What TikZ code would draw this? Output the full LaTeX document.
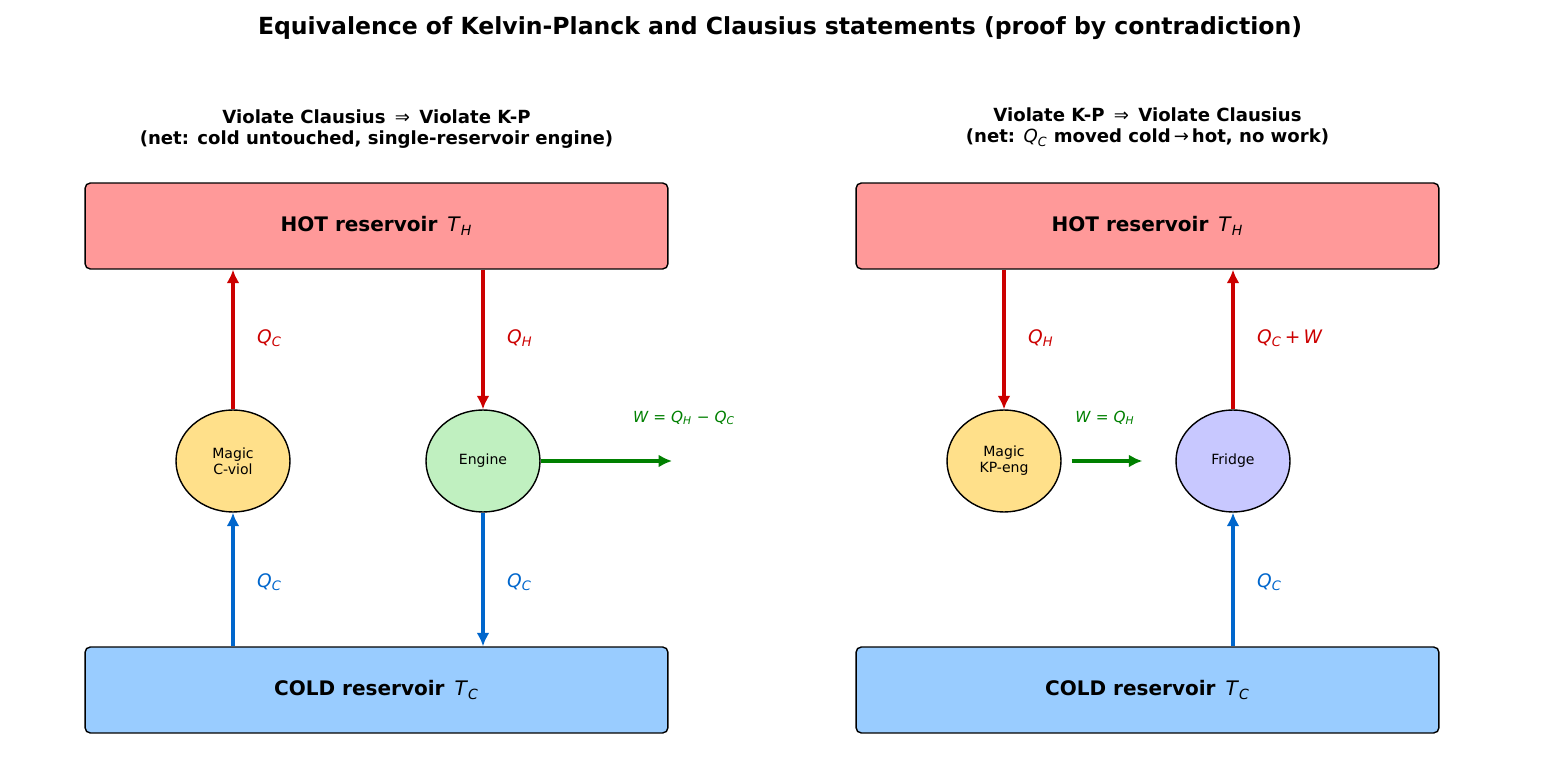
\documentclass[tikz,border=0pt]{standalone}
\usepackage{fontspec}
\setmainfont{DejaVu Sans}
\usetikzlibrary{arrows.meta,shapes.geometric}
\definecolor{hotfill}{HTML}{FF9999}
\definecolor{coldfill}{HTML}{99CCFF}
\definecolor{magicfill}{HTML}{FFE08A}
\definecolor{enginefill}{HTML}{C0F0C0}
\definecolor{fridgefill}{HTML}{C8C8FF}
\definecolor{heatred}{HTML}{CC0000}
\definecolor{coldblue}{HTML}{0066CC}
\definecolor{workgreen}{HTML}{008000}
\newcommand{\qsym}[2]{\textit{#1}\textsubscript{\textit{#2}}}
\newcommand{\reservoirs}[2]{%
  \begin{scope}[shift={#1}]
    \node[resbox,fill=hotfill] (hot#2) at (0,226) {HOT reservoir\enspace{\mdseries\qsym{T}{H}}};
    \node[resbox,fill=coldfill] (cold#2) at (0,690) {COLD reservoir\enspace{\mdseries\qsym{T}{C}}};
  \end{scope}}

\begin{document}
\begin{tikzpicture}[x=0.02cm, y=-0.02cm,
  resbox/.style={draw=black, line width=0.8pt, rounded corners=3pt,
    minimum width=11.66cm, minimum height=1.72cm,
    font=\bfseries\fontsize{11.4}{13}\selectfont},
  device/.style={ellipse, draw=black, line width=0.8pt, inner sep=0pt,
    minimum width=2.28cm, minimum height=2.04cm, align=center,
    font=\fontsize{8}{9.2}\selectfont},
  flow/.style={line width=2.3pt, -{Latex[length=2.7mm,width=2.6mm]}},
  qlab/.style={anchor=west, font=\fontsize{10.6}{12}\selectfont},
  wlab/.style={text=workgreen, font=\fontsize{8.7}{10}\selectfont},
  subtitle/.style={align=center, font=\bfseries\fontsize{10.3}{12.3}\selectfont}]
  \useasboundingbox (0,0) rectangle (1560,780);

  \node[font=\bfseries\fontsize{13.4}{16}\selectfont] (title) at (780,28)
    {Equivalence of Kelvin-Planck and Clausius statements (proof by contradiction)};

  % left panel: Clausius violator feeding an engine
  \node[subtitle] (subL) at (376.5,129)
    {Violate Clausius {\mdseries\,⇒\,} Violate K-P\\(net: cold untouched, single-reservoir engine)};
  \reservoirs{(376.5,0)}{L}
  \node[device,fill=magicfill] (cviol) at (233,461) {Magic\\C-viol};
  \node[device,fill=enginefill] (engine) at (483,461) {Engine};
  \coordinate (wout) at (672,461);

  \draw[flow,heatred] (cviol.north) -- (hotL.south -| cviol.north);
  \draw[flow,heatred] (hotL.south -| engine.north) -- (engine.north);
  \draw[flow,coldblue] (coldL.north -| cviol.south) -- (cviol.south);
  \draw[flow,coldblue] (engine.south) -- (coldL.north -| engine.south);
  \draw[flow,workgreen] (engine.east) -- (wout);

  \node[qlab,text=heatred] (qcup) at (251,338) {\qsym{Q}{C}};
  \node[qlab,text=heatred] (qhL) at (501,338) {\qsym{Q}{H}};
  \node[qlab,text=coldblue] (qcin) at (251,582) {\qsym{Q}{C}};
  \node[qlab,text=coldblue] (qcout) at (501,582) {\qsym{Q}{C}};
  \node[wlab] (wL) at (684,418) {\textit{W} = \qsym{Q}{H} − \qsym{Q}{C}};

  % right panel: K-P violator driving a fridge
  \node[subtitle] (subR) at (1147.5,127)
    {Violate K-P {\mdseries\,⇒\,} Violate Clausius\\(net: {\mdseries\qsym{Q}{C}} moved cold{\mdseries\,→\,}hot, no work)};
  \reservoirs{(1147.5,0)}{R}
  \node[device,fill=magicfill] (kpeng) at (1004,461) {Magic\\KP-eng};
  \node[device,fill=fridgefill] (fridge) at (1233,461) {Fridge};

  \draw[flow,heatred] (hotR.south -| kpeng.north) -- (kpeng.north);
  \draw[flow,heatred] (fridge.north) -- (hotR.south -| fridge.north);
  \draw[flow,coldblue] (coldR.north -| fridge.south) -- (fridge.south);
  \draw[flow,workgreen,shorten <=0.2cm,shorten >=0.66cm] (kpeng.east) -- (fridge.west);

  \node[qlab,text=heatred] (qhR) at (1022,338) {\qsym{Q}{H}};
  \node[qlab,text=heatred] (qcw) at (1251,338) {\qsym{Q}{C}\,+\,\textit{W}};
  \node[qlab,text=coldblue] (qcR) at (1251,582) {\qsym{Q}{C}};
  \node[wlab] (wR) at (1105,418) {\textit{W} = \qsym{Q}{H}};
\end{tikzpicture}
\end{document}
